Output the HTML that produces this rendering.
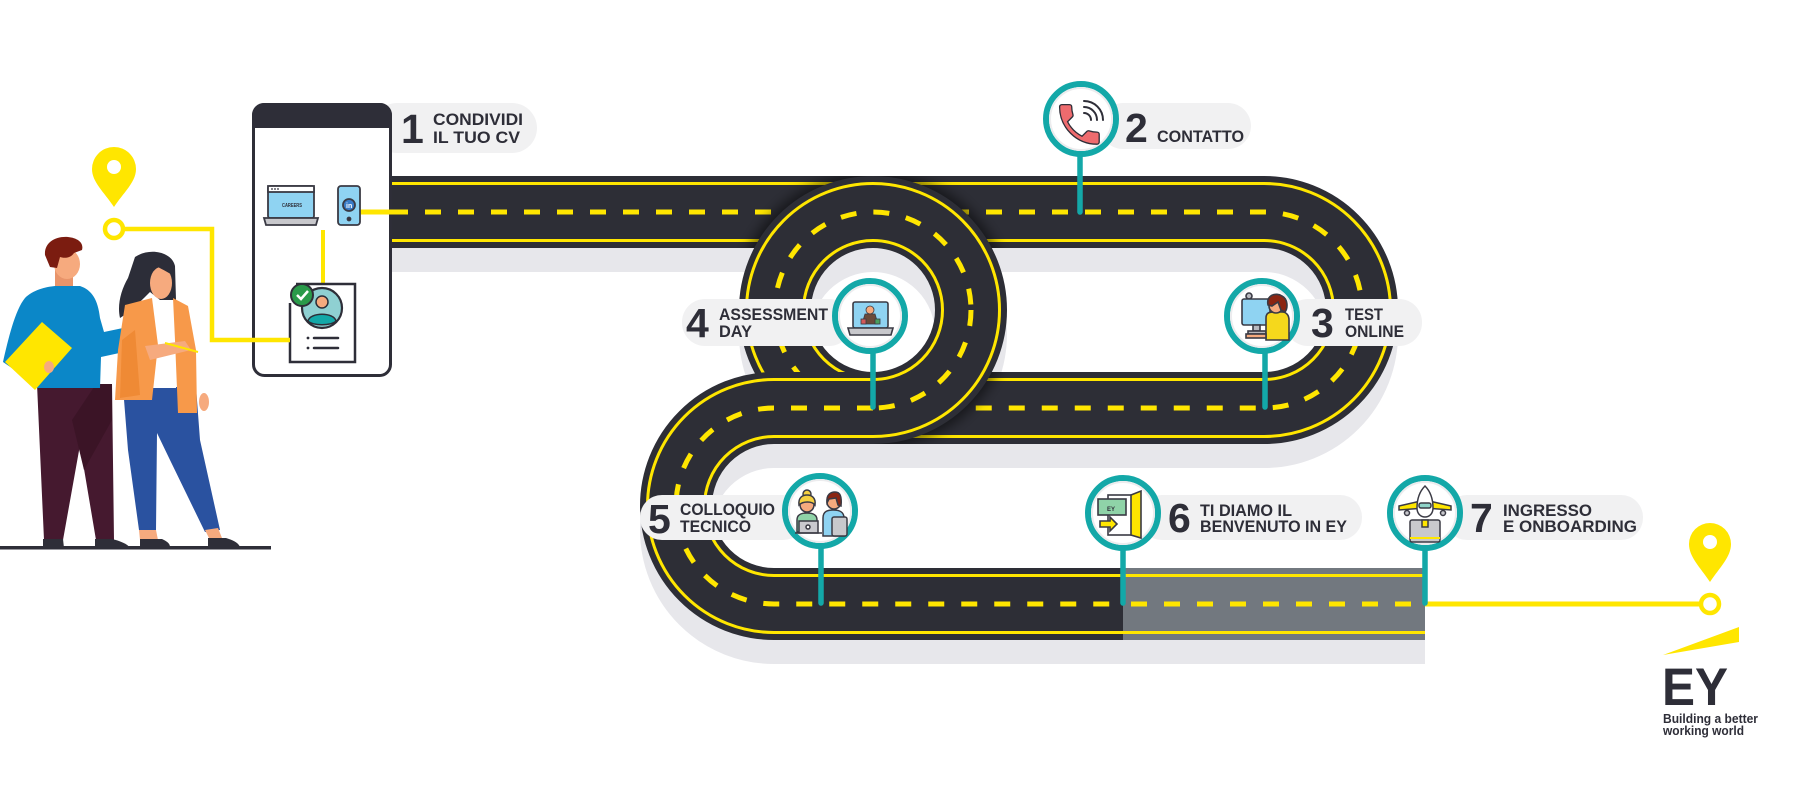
<!DOCTYPE html>
<html><head><meta charset="utf-8"><style>
html,body{margin:0;padding:0;background:#fff;}
svg{display:block;}
.n{font-family:"Liberation Sans",sans-serif;font-weight:bold;font-size:41px;fill:#2e2e38;}
.t{font-family:"Liberation Sans",sans-serif;font-weight:bold;font-size:16.5px;fill:#2e2e38;}
</style></head><body>
<svg width="1800" height="800" viewBox="0 0 1800 800" xmlns="http://www.w3.org/2000/svg">
<defs>
<filter id="blur" x="-20%" y="-20%" width="140%" height="140%"><feGaussianBlur stdDeviation="6"/></filter>
<clipPath id="clipRoads"><rect x="392" y="176" width="872" height="72"/><rect x="873" y="372" width="391" height="72"/></clipPath>
</defs>

<!-- shadows -->
<g transform="translate(0,24)" fill="none" stroke="#e7e7eb" stroke-width="72">
<path d="M380 212 H1264 A98 98 0 0 1 1264 408 H873"/>
<circle cx="873" cy="310" r="98"/>
<path d="M873 408 H774 A98 98 0 0 0 774 604 H1425"/>
</g>

<!-- road R -->
<g fill="none">
<path d="M380 212 H1264 A98 98 0 0 1 1264 408 H873" stroke="#2d2e36" stroke-width="72"/>
<path d="M380 212 H1264 A98 98 0 0 1 1264 408 H873" stroke="#ffe600" stroke-width="60"/>
<path d="M380 212 H1264 A98 98 0 0 1 1264 408 H873" stroke="#2d2e36" stroke-width="54"/>
<path d="M392 212 H1264 A98 98 0 0 1 1264 408 H873" stroke="#ffe600" stroke-width="5" stroke-dasharray="16 17"/>
</g>

<!-- circle glow -->
<circle cx="873" cy="310" r="100" fill="none" stroke="#000" stroke-opacity="0.5" stroke-width="78" filter="url(#blur)" clip-path="url(#clipRoads)"/>

<!-- loop circle -->
<g fill="none">
<circle cx="873" cy="310" r="98" stroke="#2d2e36" stroke-width="72"/>
<circle cx="873" cy="310" r="98" stroke="#ffe600" stroke-width="60"/>
<circle cx="873" cy="310" r="98" stroke="#2d2e36" stroke-width="54"/>
<circle cx="873" cy="310" r="98" stroke="#ffe600" stroke-width="5" stroke-dasharray="16 17"/>
</g>

<!-- road L -->
<g fill="none">
<path d="M873 408 H774 A98 98 0 0 0 774 604 H1123" stroke="#2d2e36" stroke-width="72"/>
<path d="M873 408 H774 A98 98 0 0 0 774 604 H1123" stroke="#ffe600" stroke-width="60"/>
<path d="M873 408 H774 A98 98 0 0 0 774 604 H1123" stroke="#2d2e36" stroke-width="54"/>
<path d="M873 408 H774 A98 98 0 0 0 774 604 H1123" stroke="#ffe600" stroke-width="5" stroke-dasharray="16 17"/>
<path d="M1123 604 H1425" stroke="#72787f" stroke-width="72"/>
<path d="M1123 604 H1425" stroke="#ffe600" stroke-width="60"/>
<path d="M1123 604 H1425" stroke="#72787f" stroke-width="54"/>
<path d="M1131 604 H1425" stroke="#ffe600" stroke-width="5" stroke-dasharray="16 17"/>
</g>

<!-- yellow connector to end -->
<line x1="1425" y1="604" x2="1700" y2="604" stroke="#ffe600" stroke-width="5"/>
<circle cx="1710" cy="604" r="9" fill="#fff" stroke="#ffe600" stroke-width="4.5"/>
<path d="M1710 582 C1700 567 1689 557 1689 544 A21 21 0 1 1 1731 544 C1731 557 1720 567 1710 582 Z" fill="#ffe600"/>
<circle cx="1710" cy="542" r="7" fill="#fff"/>

<!-- pills -->
<g fill="#f1f1f2">
<rect x="372" y="103" width="165" height="50" rx="25"/>
<rect x="1100" y="103" width="151" height="46" rx="23"/>
<rect x="1285" y="299" width="137" height="47" rx="23"/>
<rect x="682" y="299" width="170" height="47" rx="23"/>
<rect x="640" y="495" width="165" height="45" rx="22"/>
<rect x="1140" y="495" width="222" height="45" rx="22"/>
<rect x="1445" y="495" width="198" height="45" rx="22"/>
</g>

<!-- stems -->
<g stroke="#13a8a8" stroke-width="5.5" stroke-linecap="round">
<line x1="1080" y1="150" x2="1080" y2="212"/>
<line x1="1265" y1="345" x2="1265" y2="407"/>
<line x1="873" y1="345" x2="873" y2="407"/>
<line x1="821" y1="540" x2="821" y2="603"/>
<line x1="1123" y1="540" x2="1123" y2="603"/>
<line x1="1425" y1="540" x2="1425" y2="603"/>
</g>

<!-- marker circles -->
<g fill="#fff" stroke="#13a8a8" stroke-width="6">
<circle cx="1081" cy="119" r="35"/>
<circle cx="1262" cy="316" r="35"/>
<circle cx="870" cy="316" r="35"/>
<circle cx="820" cy="511" r="35"/>
<circle cx="1123" cy="513" r="35"/>
<circle cx="1425" cy="513" r="35"/>
</g>
<g fill="none" stroke="#ececee" stroke-width="2">
<circle cx="1081" cy="119" r="31"/>
<circle cx="1262" cy="316" r="31"/>
<circle cx="870" cy="316" r="31"/>
<circle cx="820" cy="511" r="31"/>
<circle cx="1123" cy="513" r="31"/>
<circle cx="1425" cy="513" r="31"/>
</g>

<!-- icon 2: phone -->
<g transform="translate(1053,98) scale(2.2)">
<path d="M6.62 10.79c1.44 2.83 3.76 5.14 6.59 6.59l2.2-2.2c.27-.27.67-.36 1.02-.24 1.12.37 2.33.57 3.57.57.55 0 1 .45 1 1V20c0 .55-.45 1-1 1C10.61 21 3 13.39 3 4c0-.55.45-1 1-1h3.5c.55 0 1 .45 1 1 0 1.25.2 2.45.57 3.57.11.35.03.74-.25 1.02l-2.2 2.2z" fill="#ee6b6e" stroke="#2e2e38" stroke-width="0.6"/>
</g>
<g fill="none" stroke="#2e2e38" stroke-width="2" stroke-linecap="round">
<path d="M1084 113 A7 7 0 0 1 1091 120"/>
<path d="M1084 107 A13 13 0 0 1 1097 120"/>
<path d="M1084 101 A19 19 0 0 1 1103 120"/>
</g>

<!-- icon 3: test online -->
<g stroke="#3a3a44" stroke-width="1.6">
<circle cx="1249" cy="296" r="3" fill="#b8b8be"/>
<rect x="1242" y="299" width="28" height="26" rx="2" fill="#8fd3f2"/>
<rect x="1253" y="325" width="7" height="6" fill="#b8b8be"/>
<rect x="1248" y="331" width="18" height="3" fill="#b8b8be"/>
<path d="M1266 318 C1266 312 1270 312 1276 312 L1282 312 C1287 312 1289 316 1289 320 L1289 340 L1266 340 Z" fill="#f5d81c"/>
<circle cx="1276" cy="306" r="7" fill="#f6aa7e"/>
<path d="M1268 305 C1266 295 1276 292 1282 296 C1288 299 1288 308 1285 312 L1281 310 L1278 302 L1272 306 Z" fill="#8b2512"/>
<rect x="1246" y="334" width="20" height="4" fill="#f6aa7e"/>
</g>

<!-- icon 4: laptop -->
<g stroke="#3a3a44" stroke-width="1.6">
<rect x="853" y="302" width="35" height="26" rx="2" fill="#8fd3f2"/>
<path d="M848 328 L893 328 L891 335 L850 335 Z" fill="#c8c8cc"/>
<circle cx="870" cy="310" r="4" fill="#f6aa7e" stroke-width="0.8"/>
<path d="M862 324 L865 314 L875 314 L878 324 Z" fill="#6b4a3a" stroke-width="0.8"/>
<rect x="861" y="319" width="5" height="5" fill="#d45a5a" stroke-width="0.8"/>
<rect x="875" y="319" width="5" height="5" fill="#4aa060" stroke-width="0.8"/>
</g>

<!-- icon 5: interview -->
<g stroke="#3a3a44" stroke-width="1.5">
<circle cx="807" cy="494" r="4" fill="#f5d040"/>
<path d="M797 532 L797 520 C797 514 802 513 807 513 C812 513 817 514 817 520 L817 532 Z" fill="#8fd3a8"/>
<circle cx="807" cy="505" r="7" fill="#f6aa7e"/>
<path d="M799 505 C798 497 803 495 807 495 C812 495 816 498 815 505 C812 501 803 501 799 505 Z" fill="#f5d040"/>
<rect x="799" y="521" width="19" height="12" fill="#c9c9ce"/>
<circle cx="808" cy="527" r="2" fill="#fff"/>
<path d="M823 536 L823 518 C823 511 828 510 833 510 C840 510 844 512 844 518 L844 536 Z" fill="#8fd3f2"/>
<circle cx="834" cy="502" r="7" fill="#f6aa7e"/>
<path d="M827 503 C826 494 831 492 835 492 C840 492 842 496 841 506 L838 505 L836 498 L829 499 Z" fill="#8b2512"/>
<rect x="832" y="517" width="15" height="19" rx="2" fill="#c8c8cc"/>
<line x1="795" y1="533" x2="822" y2="533"/>
</g>

<!-- icon 6: door -->
<g stroke="#3a3a44" stroke-width="1.6">
<rect x="1108" y="495" width="29" height="40" fill="#fff"/>
<path d="M1131 495 L1141 491 L1141 538 L1131 535 Z" fill="#ffe600"/>
<rect x="1098" y="499" width="28" height="16" fill="#8fd3a8"/>
<path d="M1100 521 L1110 521 L1110 517 L1117 524 L1110 531 L1110 527 L1100 527 Z" fill="#ffe600"/>
</g>
<text x="1107" y="511" font-family="Liberation Sans,sans-serif" font-weight="bold" font-size="6" fill="#2e2e38">EY</text>

<!-- icon 7: plane + box -->
<g stroke="#3a3a44" stroke-width="1.5">
<path d="M1399 506 L1425 500 L1451 506 L1451 510 L1425 508 L1399 510 Z" fill="#ffe600"/>
<circle cx="1407" cy="513" r="2.5" fill="#c8c8cc"/>
<circle cx="1443" cy="513" r="2.5" fill="#c8c8cc"/>
<path d="M1425 486 C1431 492 1433 500 1433 508 C1433 514 1429 517 1425 517 C1421 517 1417 514 1417 508 C1417 500 1419 492 1425 486 Z" fill="#fff"/>
<rect x="1419" y="503" width="12" height="5" rx="2" fill="#8fd3c8"/>
<rect x="1410" y="520" width="30" height="22" rx="2" fill="#c8c8cc"/>
<rect x="1422" y="520" width="6" height="7" fill="#ffe600"/>
<line x1="1410" y1="538" x2="1440" y2="538" stroke="#ffe600" stroke-width="2"/>
</g>

<!-- labels -->
<text class="n" x="401" y="143">1</text>
<text class="t" x="433" y="125" textLength="90" lengthAdjust="spacingAndGlyphs">CONDIVIDI</text>
<text class="t" x="433" y="143" textLength="87" lengthAdjust="spacingAndGlyphs">IL TUO CV</text>

<text class="n" x="1125" y="142">2</text>
<text class="t" x="1157" y="142" textLength="87" lengthAdjust="spacingAndGlyphs">CONTATTO</text>

<text class="n" x="1311" y="337">3</text>
<text class="t" x="1345" y="320" textLength="38" lengthAdjust="spacingAndGlyphs">TEST</text>
<text class="t" x="1345" y="337" textLength="59" lengthAdjust="spacingAndGlyphs">ONLINE</text>

<text class="n" x="686" y="337">4</text>
<text class="t" x="719" y="320" textLength="109" lengthAdjust="spacingAndGlyphs">ASSESSMENT</text>
<text class="t" x="719" y="337" textLength="33" lengthAdjust="spacingAndGlyphs">DAY</text>

<text class="n" x="648" y="533">5</text>
<text class="t" x="680" y="515" textLength="95" lengthAdjust="spacingAndGlyphs">COLLOQUIO</text>
<text class="t" x="680" y="532" textLength="71" lengthAdjust="spacingAndGlyphs">TECNICO</text>

<text class="n" x="1168" y="532">6</text>
<text class="t" x="1200" y="516" textLength="92" lengthAdjust="spacingAndGlyphs">TI DIAMO IL</text>
<text class="t" x="1200" y="532" textLength="147" lengthAdjust="spacingAndGlyphs">BENVENUTO IN EY</text>

<text class="n" x="1470" y="532">7</text>
<text class="t" x="1503" y="516" textLength="89" lengthAdjust="spacingAndGlyphs">INGRESSO</text>
<text class="t" x="1503" y="532" textLength="134" lengthAdjust="spacingAndGlyphs">E ONBOARDING</text>

<!-- phone frame -->
<rect x="253.5" y="104.5" width="137" height="271" rx="11" fill="#fff" stroke="#2e2e38" stroke-width="3"/>
<path d="M252 128 L252 115 A12 12 0 0 1 264 103 L380 103 A12 12 0 0 1 392 115 L392 128 Z" fill="#2e2e38"/>

<!-- phone inner connectors -->
<line x1="360" y1="212" x2="392" y2="212" stroke="#ffe600" stroke-width="5"/>
<line x1="323" y1="230" x2="323" y2="284" stroke="#ffe600" stroke-width="4"/>

<!-- laptop careers -->
<g stroke="#3a3a44" stroke-width="1.8">
<rect x="268" y="186" width="46" height="32" rx="2" fill="#8fd3f2"/>
<rect x="268" y="186" width="46" height="6" fill="#fff"/>
<path d="M264 218 L318 218 L316 225 L266 225 Z" fill="#c8c8cc"/>
</g>
<g fill="#2e2e38"><circle cx="272" cy="189" r="0.9"/><circle cx="275" cy="189" r="0.9"/><circle cx="278" cy="189" r="0.9"/></g>
<text x="282" y="207" font-family="Liberation Sans,sans-serif" font-weight="bold" font-size="5.5" fill="#2e2e38" textLength="20" lengthAdjust="spacingAndGlyphs">CAREERS</text>

<!-- small phone linkedin -->
<g stroke="#3a3a44" stroke-width="1.8">
<rect x="338" y="186" width="22" height="39" rx="3" fill="#8fd3f2"/>
<circle cx="349" cy="205" r="6" fill="#3a7cc8"/>
<circle cx="349" cy="219" r="1.5" fill="#2e2e38"/>
</g>
<text x="346" y="208" font-family="Liberation Sans,sans-serif" font-weight="bold" font-size="7" fill="#fff">in</text>

<!-- CV doc -->
<path d="M296 284 L355 284 L355 362 L290 362 L290 303" fill="#fff" stroke="#2e2e38" stroke-width="2.5"/>
<circle cx="322" cy="308" r="20" fill="#8fd0d2" stroke="#2e2e38" stroke-width="2.2"/>
<circle cx="322" cy="302" r="6" fill="#f6aa7e" stroke="#2e2e38" stroke-width="1.5"/>
<path d="M308 321 C310 312 334 312 336 321 C332 326 312 326 308 321 Z" fill="#13a8a8" stroke="#2e2e38" stroke-width="1.5"/>
<circle cx="302" cy="295" r="11" fill="#2a9a4a" stroke="#2e2e38" stroke-width="2"/>
<path d="M297 295 L301 299 L308 291" fill="none" stroke="#fff" stroke-width="2.5"/>
<g fill="#2e2e38"><circle cx="308" cy="338" r="1.4"/><circle cx="308" cy="348" r="1.4"/></g>
<g stroke="#2e2e38" stroke-width="2.5" stroke-linecap="round"><line x1="314" y1="338" x2="338" y2="338"/><line x1="314" y1="348" x2="338" y2="348"/></g>

<!-- left connectors -->
<polyline points="123,229 212,229 212,340 290,340" fill="none" stroke="#ffe600" stroke-width="4.5"/>
<circle cx="114" cy="229" r="9" fill="#fff" stroke="#ffe600" stroke-width="4.5"/>
<path d="M114 207 C104 192 92 182 92 169 A22 22 0 1 1 136 169 C136 182 124 192 114 207 Z" fill="#ffe600"/>
<circle cx="114" cy="167" r="7" fill="#fff"/>

<!-- people -->
<!-- man -->
<path d="M37 384 L112 384 L114 540 L96 540 L80 445 L63 540 L44 540 Z" fill="#45192f"/>
<path d="M72 420 L96 384 L112 384 L112 420 L84 470 Z" fill="#3b1426"/>
<path d="M43 539 L63 539 L64 548 L43 548 Z" fill="#2e2e38"/>
<path d="M95 539 L112 539 C120 541 128 544 130 548 L95 548 Z" fill="#2e2e38"/>
<rect x="55" y="270" width="18" height="22" fill="#e8946a"/>
<ellipse cx="67" cy="264" rx="13" ry="15" fill="#f6aa7e"/>
<path d="M45 255 C44 243 55 236 68 237 C78 238 84 243 82 250 L74 253 C70 259 63 258 60 257 L57 268 L50 267 Z" fill="#7b1c10"/>
<path d="M55 286 L80 286 C92 290 98 300 100 318 L104 332 L123 328 L124 352 L101 357 L100 388 L37 388 L36 352 L22 375 L3 362 C8 340 15 310 25 298 C33 290 45 287 55 286 Z" fill="#0b87c8"/>
<polygon points="5,362 42,322 72,348 35,390" fill="#ffe600"/>
<ellipse cx="49" cy="367" rx="5" ry="6" fill="#f6aa7e"/>

<!-- woman -->
<path d="M135 257 C150 247 172 252 175 266 L176 300 L160 300 L150 292 C140 302 130 312 120 318 C117 305 121 290 128 278 Z" fill="#2c2d38"/>
<ellipse cx="161" cy="283" rx="11" ry="16" fill="#f6aa7e"/>
<path d="M150 262 C155 252 172 252 174 266 L172 275 C165 270 158 268 150 262 Z" fill="#2c2d38"/>
<path d="M123 387 L196 387 L200 440 L220 530 L205 532 L170 460 L157 433 L156 530 L139 530 L128 450 Z" fill="#2a52a0"/>
<path d="M139 530 L156 530 L158 540 L140 540 Z" fill="#f6aa7e"/>
<path d="M205 530 L218 528 L222 538 L210 540 Z" fill="#f6aa7e"/>
<path d="M140 539 L162 539 C166 541 170 543 170 547 L140 547 Z" fill="#2e2e38"/>
<path d="M208 538 L226 538 C232 540 238 542 240 547 L208 547 Z" fill="#2e2e38"/>
<rect x="151" y="300" width="25" height="88" fill="#fff"/>
<path d="M125 305 L152 298 L158 345 L152 400 L115 400 L118 350 Z" fill="#f7994a"/>
<path d="M173 298 L188 306 L196 350 L197 413 L178 413 L175 340 Z" fill="#f7994a"/>
<path d="M122 340 L135 330 L140 395 L120 398 Z" fill="#ef8a35"/>
<path d="M145 346 L185 341 L191 350 L150 360 Z" fill="#f6aa7e"/>
<line x1="165" y1="343" x2="198" y2="352" stroke="#ffe600" stroke-width="2"/>
<ellipse cx="204" cy="402" rx="5" ry="9" fill="#f6aa7e"/>
<rect x="0" y="546" width="271" height="3.5" fill="#2e2e38"/>

<!-- EY logo -->
<polygon points="1663,655 1739,627 1739,642" fill="#ffe600"/>
<text x="1662" y="705" font-family="Liberation Sans,sans-serif" font-weight="bold" font-size="53" fill="#2e2e38" textLength="66" lengthAdjust="spacingAndGlyphs">EY</text>
<text x="1663" y="723" font-family="Liberation Sans,sans-serif" font-weight="bold" font-size="13" fill="#2e2e38" textLength="95" lengthAdjust="spacingAndGlyphs">Building a better</text>
<text x="1663" y="735" font-family="Liberation Sans,sans-serif" font-weight="bold" font-size="13" fill="#2e2e38" textLength="81" lengthAdjust="spacingAndGlyphs">working world</text>
</svg>
</body></html>
